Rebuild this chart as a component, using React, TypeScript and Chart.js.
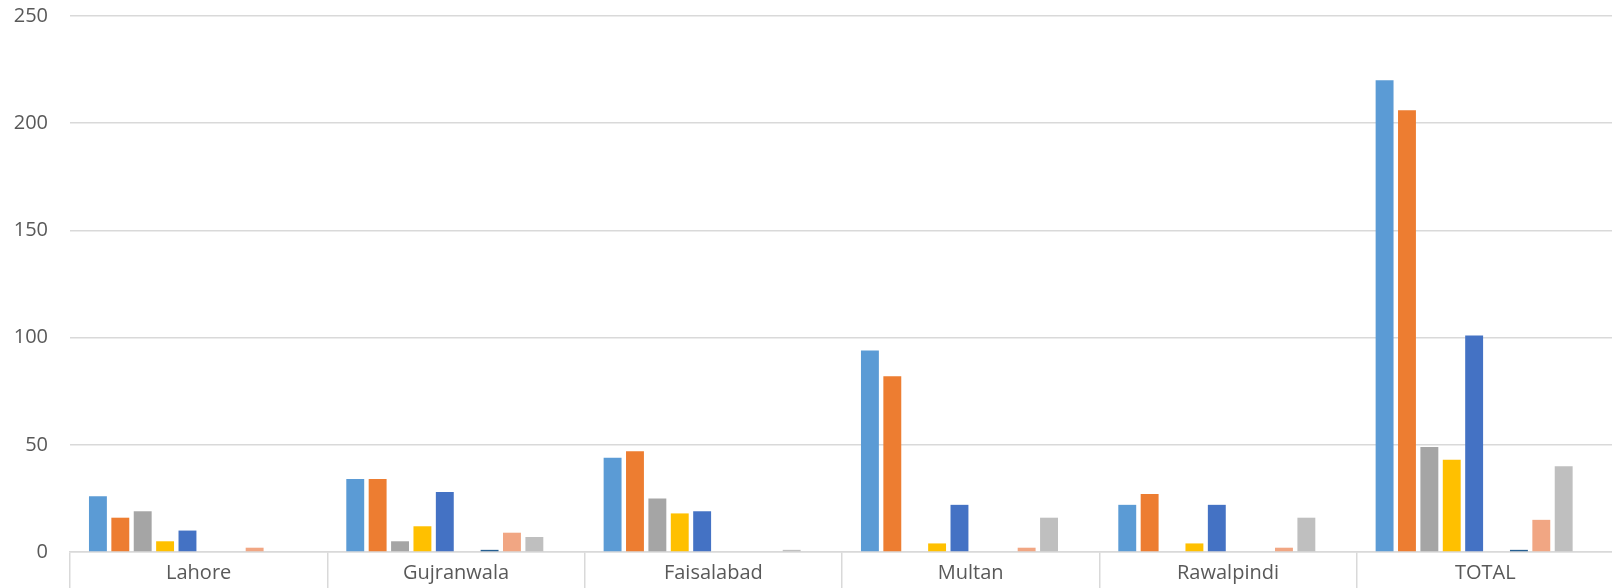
import React, { useEffect, useRef } from "react";
import { Chart, registerables } from "chart.js";

Chart.register(...registerables);

const categories = ["Lahore", "Gujranwala", "Faisalabad", "Multan", "Rawalpindi", "TOTAL"];

const series1 = [26, 34, 44, 94, 22, 220];
const series2 = [16, 34, 47, 82, 27, 206];
const series3 = [19, 5, 25, 0, 0, 49];
const series4 = [5, 12, 18, 4, 4, 43];
const series5 = [10, 28, 19, 22, 22, 101];
const series6 = [0, 0, 0, 0, 0, 0];
const series7 = [0, 1, 0, 0, 0, 1];
const series8 = [2, 9, 0, 2, 2, 15];
const series9 = [0, 7, 1, 16, 16, 40];
const series10 = [0, 0, 0, 0, 0, 0];

const seriesNames = [
  "Series 1", "Series 2", "Series 3", "Series 4", "Series 5",
  "Series 6", "Series 7", "Series 8", "Series 9", "Series 10",
];
const seriesColors = [
  "#5B9BD5", "#ED7D31", "#A5A5A5", "#FFC000", "#4472C4",
  "#70AD47", "#255E91", "#F1A683", "#BFBFBF", "#997300",
];
const yTicks = [0, 50, 100, 150, 200, 250];

const CANVAS_W = 1620;
const CANVAS_H = 618;
const SHIFT_UP = 18;

export default function App() {
  const ref = useRef<HTMLCanvasElement | null>(null);

  useEffect(() => {
    if (!ref.current) return;
    const allSeries = [series1, series2, series3, series4, series5, series6, series7, series8, series9, series10];
    const chart = new Chart(ref.current, {
      type: "bar",
      data: {
        labels: categories,
        datasets: allSeries.map((d, i) => ({
          label: seriesNames[i],
          data: d,
          backgroundColor: seriesColors[i],
          borderWidth: 0,
          categoryPercentage: 0.87,
          barPercentage: 0.8,
        })),
      },
      options: {
        animation: false,
        responsive: false,
        devicePixelRatio: 1,
        layout: { padding: { top: -2, right: 6, left: 0, bottom: 0 } },
        plugins: {
          legend: { display: false },
          tooltip: { enabled: false },
        },
        scales: {
          x: {
            offset: true,
            grid: {
              offset: true,
              drawOnChartArea: false,
              drawTicks: true,
              tickLength: 50,
              color: "#D9D9D9",
              lineWidth: 1.5,
            },
            border: { display: true, color: "#D9D9D9", width: 1.5 },
            ticks: {
              padding: -41,
              color: "#595959",
              font: { family: "'Open Sans'", size: 20 },
              maxRotation: 0,
            },
            afterFit: (scale: any) => {
              scale.height = 48;
            },
          },
          y: {
            min: 0,
            max: 250,
            afterBuildTicks: (scale: any) => {
              scale.ticks = yTicks.map((v) => ({ value: v }));
            },
            grid: {
              drawTicks: false,
              color: "#D9D9D9",
              lineWidth: 1.5,
            },
            border: { display: false },
            ticks: {
              padding: 22,
              color: "#595959",
              font: { family: "'Open Sans'", size: 20 },
            },
            afterFit: (scale: any) => {
              scale.width = 70;
            },
          },
        },
      },
    });
    return () => chart.destroy();
  }, []);

  return (
    <div
      style={{
        position: "fixed",
        left: 0,
        top: 0,
        width: 1612,
        height: 588,
        overflow: "hidden",
        background: "#FFFFFF",
      }}
    >
      <canvas
        ref={ref}
        width={CANVAS_W}
        height={CANVAS_H}
        style={{ display: "block", width: CANVAS_W, height: CANVAS_H, marginTop: -SHIFT_UP }}
      />
    </div>
  );
}
